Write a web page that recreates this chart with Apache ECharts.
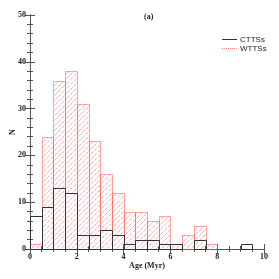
<!DOCTYPE html>
<html>
<head>
<meta charset="utf-8">
<script src="https://cdn.jsdelivr.net/npm/echarts@6/dist/echarts.min.js"></script>
<style>html,body{margin:0;padding:0;background:#fff}#c{width:279px;height:279px}</style>
</head>
<body>
<div id="c"></div>
<script>
var binStarts = [0,0.5,1,1.5,2,2.5,3,3.5,4,4.5,5,5.5,6,6.5,7,7.5,8,8.5,9,9.5];
var binWidth = 0.5;
var cttsCounts = [7,9,13,12,3,3,4,3,1,2,2,1,1,0,2,0,0,0,1,0];
var wttsCounts = [1,24,36,38,31,23,16,12,8,8,6,7,1,3,5,1,0,0,0,0];
var xTicks = [0,2,4,6,8,10];
var yTicks = [0,10,20,30,40,50];

function toData(counts){
  var out = [];
  for (var i = 0; i < binStarts.length; i++) {
    out.push([binStarts[i], binStarts[i] + binWidth, counts[i]]);
  }
  return out;
}

function hatchLines(x, y, w, h){
  var els = [];
  var step = 5;
  var cStart = Math.ceil((x + y) / step) * step;
  for (var c = cStart; c <= x + w + y + h; c += step) {
    var a = Math.max(x, c - y - h), b = Math.min(x + w, c - y);
    if (b - a < 0.5) continue;
    els.push({type: 'line', shape: {x1: a, y1: c - a, x2: b, y2: c - b},
      style: {stroke: 'rgba(255,110,110,0.85)', lineWidth: 1, lineDash: [1, 1]}, silent: true});
  }
  return els;
}

function makeRender(kind){
  return function(params, api){
    var x0 = api.value(0), x1 = api.value(1), v = api.value(2);
    if (!v) return null;
    var p0 = api.coord([x0, 0]);
    var p1 = api.coord([x1, v]);
    var rx = Math.round(p0[0]) + 0.5, ry = Math.round(p1[1]) + 0.5;
    var rw = Math.round(p1[0]) - Math.round(p0[0]), rh = Math.round(p0[1]) - Math.round(p1[1]);
    if (kind === 'w') {
      var kids = hatchLines(rx, ry, rw, rh);
      kids.push({type: 'rect', shape: {x: rx, y: ry, width: rw, height: rh},
        style: {fill: 'none', stroke: '#ff4a4a', lineWidth: 1, lineDash: [1, 1]}});
      return {type: 'group', children: kids};
    }
    return {type: 'rect', shape: {x: rx, y: ry, width: rw, height: rh},
      style: {fill: 'none', stroke: '#333', lineWidth: 1}};
  };
}

var serif = 'Liberation Serif';
var chart = echarts.init(document.getElementById('c'), null, {renderer: 'canvas'});
var axisLine = {show: true, lineStyle: {color: '#555', width: 1}};
chart.setOption({
  animation: false,
  backgroundColor: '#fff',
  grid: {left: 30, right: 15, top: 15, bottom: 30, show: false, containLabel: false, outerBoundsMode: 'none'},
  legend: {
    left: 217, top: 30, orient: 'vertical', itemGap: 0,
    itemWidth: 15, itemHeight: 1,
    textStyle: {fontFamily: 'Liberation Sans', fontSize: 8, color: '#222', lineHeight: 9, padding: [0,0,0,-2]},
    data: [
      {name: 'CTTSs', icon: 'rect', itemStyle: {color: '#333'}},
      {name: 'WTTSs', icon: 'path://M0,0h1v1h-1z M2,0h1v1h-1z M4,0h1v1h-1z M6,0h1v1h-1z M8,0h1v1h-1z M10,0h1v1h-1z M12,0h1v1h-1z M14,0h1v1h-1z', itemStyle: {color: '#ff8080'}}
    ]
  },
  graphic: [{type: 'text', left: 144, top: 13, style: {text: '(a)', font: 'bold 8px "Liberation Serif"', fill: '#222'}}],
  xAxis: [{
    type: 'value', min: 0, max: 10, interval: 2, position: 'bottom',
    name: 'Age (Myr)', nameLocation: 'middle', nameGap: 13, nameMoveOverlap: false,
    nameTextStyle: {fontFamily: serif, fontSize: 8, fontWeight: 'bold', color: '#222'},
    axisLine: axisLine,
    axisTick: {show: true, inside: true, length: 5, lineStyle: {color: '#555'}},
    minorTick: {show: true, splitNumber: 4, length: 3, lineStyle: {color: '#555'}},
    axisLabel: {fontFamily: serif, fontSize: 8, fontWeight: 'bold', color: '#222', margin: 4,
      formatter: function(v){ return xTicks.indexOf(v) >= 0 ? String(v) : ''; }},
    splitLine: {show: false}
  }, {
    type: 'value', min: 0, max: 10, interval: 2, position: 'top',
    axisLine: axisLine,
    axisTick: {show: true, inside: true, length: 5, lineStyle: {color: '#555'}},
    minorTick: {show: true, splitNumber: 4, length: 3, lineStyle: {color: '#555'}},
    axisLabel: {show: false}, splitLine: {show: false}
  }],
  yAxis: [{
    type: 'value', min: 0, max: 50, interval: 10, position: 'left',
    name: 'N', nameLocation: 'middle', nameGap: 13, nameRotate: 90, nameMoveOverlap: false,
    nameTextStyle: {fontFamily: serif, fontSize: 8, fontWeight: 'bold', color: '#222'},
    axisLine: axisLine,
    axisTick: {show: true, inside: true, length: 5, lineStyle: {color: '#555'}},
    minorTick: {show: true, splitNumber: 5, length: 3, lineStyle: {color: '#555'}},
    axisLabel: {fontFamily: serif, fontSize: 8, fontWeight: 'bold', color: '#222', margin: 4,
      formatter: function(v){ return yTicks.indexOf(v) >= 0 ? String(v) : ''; }},
    splitLine: {show: false}
  }, {
    type: 'value', min: 0, max: 50, interval: 10, position: 'right',
    axisLine: axisLine,
    axisTick: {show: true, inside: true, length: 5, lineStyle: {color: '#555'}},
    minorTick: {show: true, splitNumber: 5, length: 3, lineStyle: {color: '#555'}},
    axisLabel: {show: false}, splitLine: {show: false}
  }],
  series: [
    {name: 'WTTSs', type: 'custom', renderItem: makeRender('w'), data: toData(wttsCounts), encode: {x: [0, 1], y: 2}, z: 1},
    {name: 'CTTSs', type: 'custom', renderItem: makeRender('c'), data: toData(cttsCounts), encode: {x: [0, 1], y: 2}, z: 2}
  ]
});
</script>
</body>
</html>
